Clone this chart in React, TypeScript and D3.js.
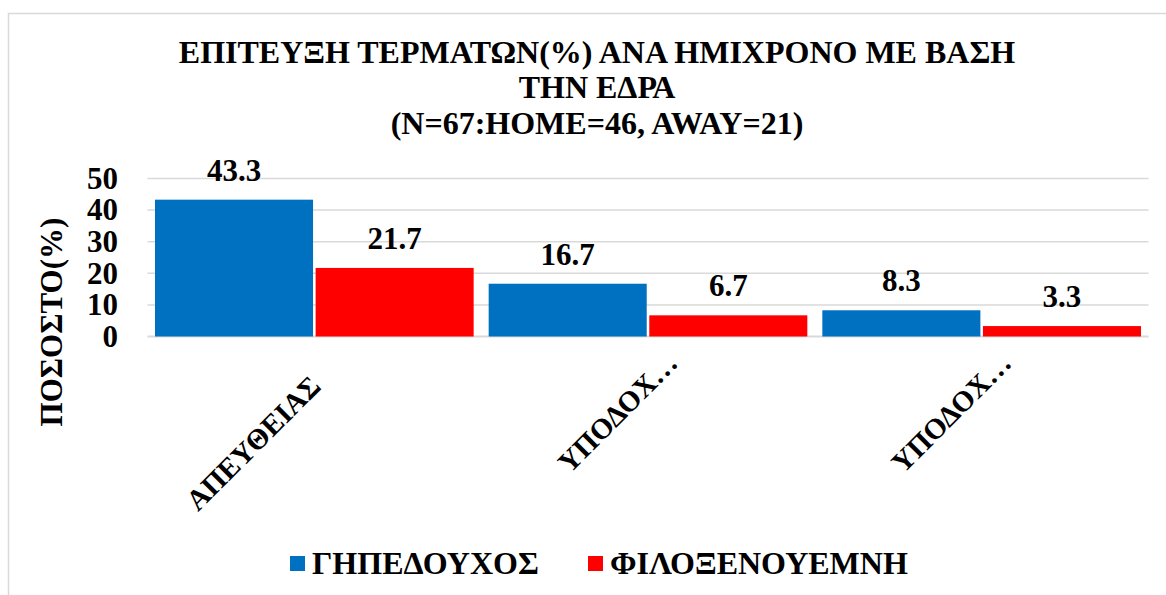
import React from 'react';
import * as d3 from 'd3';

const categories = ['ΑΠΕΥΘΕΙΑΣ', 'ΥΠΟΔΟΧ…', 'ΥΠΟΔΟΧ…'];
const seriesNames = ['ΓΗΠΕΔΟΥΧΟΣ', 'ΦΙΛΟΞΕΝΟΥΕΜΝΗ'];
const homeValues = [43.3, 16.7, 8.3];
const awayValues = [21.7, 6.7, 3.3];
const yTicks = [0, 10, 20, 30, 40, 50];
const titleLines = [
  'ΕΠΙΤΕΥΞΗ ΤΕΡΜΑΤΩΝ(%) ΑΝΑ ΗΜΙΧΡΟΝΟ ΜΕ ΒΑΣΗ',
  'ΤΗΝ ΕΔΡΑ',
  '(N=67:HOME=46, AWAY=21)',
];
const colors = ['#0070c0', '#ff0000'];

const W = 1166;
const H = 595;
const FONT = 'Liberation Serif';

export default function App() {
  const plot = { left: 147.5, right: 1148.5, top: 178.5, bottom: 336.5 };

  const x = d3.scaleBand<number>()
    .domain(d3.range(categories.length))
    .range([plot.left, plot.right])
    .paddingInner(0.045)
    .paddingOuter(0.0225);

  const inner = d3.scaleBand<number>()
    .domain([0, 1])
    .range([0, x.bandwidth()])
    .paddingInner(0.016);

  const y = d3.scaleLinear().domain([0, 50]).range([plot.bottom, plot.top]);

  const series = [homeValues, awayValues];

  return (
    <svg width={W} height={H} fontFamily={FONT} fontWeight="bold" style={{ position: 'absolute', left: 0, top: 0 }}>
      <rect x={0} y={0} width={W} height={H} fill="#fff" />
      <rect x={8.5} y={13.5} width={W + 20} height={H + 20} fill="none" stroke="#d9d9d9" strokeWidth={1.5} />

      {titleLines.map((t, i) => (
        <text key={i} x={597} y={[63, 98, 134][i]} textAnchor="middle" fontFamily={FONT} fontSize={32}>{t}</text>
      ))}

      {yTicks.map(t => (
        <g key={t}>
          <line x1={plot.left} x2={plot.right} y1={y(t)} y2={y(t)} stroke="#d9d9d9" strokeWidth={t === 0 ? 2 : 1.5} />
          <text x={118} y={y(t)} dy="0.33em" textAnchor="end" fontFamily={FONT} fontSize={31}>{t}</text>
        </g>
      ))}

      <text transform={`translate(52,322) rotate(-90)`} dy="0.33em" textAnchor="middle" fontFamily={FONT} fontSize={31}>ΠΟΣΟΣΤΟ(%)</text>

      {categories.map((c, ci) => {
        const cx = (x(ci) ?? 0) + x.bandwidth() / 2;
        // excel pushes the clipped labels further up along the slant
        const shift = c.endsWith('…') ? 33 : 0;
        return (
          <g key={ci}>
            {series.map((vals, si) => {
              const bx = (x(ci) ?? 0) + (inner(si) ?? 0);
              return (
                <g key={si}>
                  <rect x={bx} y={y(vals[ci])} width={inner.bandwidth()} height={y(0) - y(vals[ci])} fill={colors[si]} />
                  <text x={bx + inner.bandwidth() / 2} y={y(vals[ci]) - 19} textAnchor="middle" fontFamily={FONT} fontSize={31}>{vals[ci].toFixed(1)}</text>
                </g>
              );
            })}
            <text
              transform={`translate(${cx + 8},388) rotate(-45) translate(${shift},0)`}
              textAnchor="end"
              fontFamily={FONT}
              fontSize={29}
            >{c}</text>
          </g>
        );
      })}

      {seriesNames.map((s, i) => {
        const lx = i === 0 ? 290 : 588;
        return (
          <g key={s}>
            <rect x={lx} y={556} width={15} height={15} fill={colors[i]} />
            <text x={lx + 22} y={574} fontFamily={FONT} fontSize={32}>{s}</text>
          </g>
        );
      })}
    </svg>
  );
}
